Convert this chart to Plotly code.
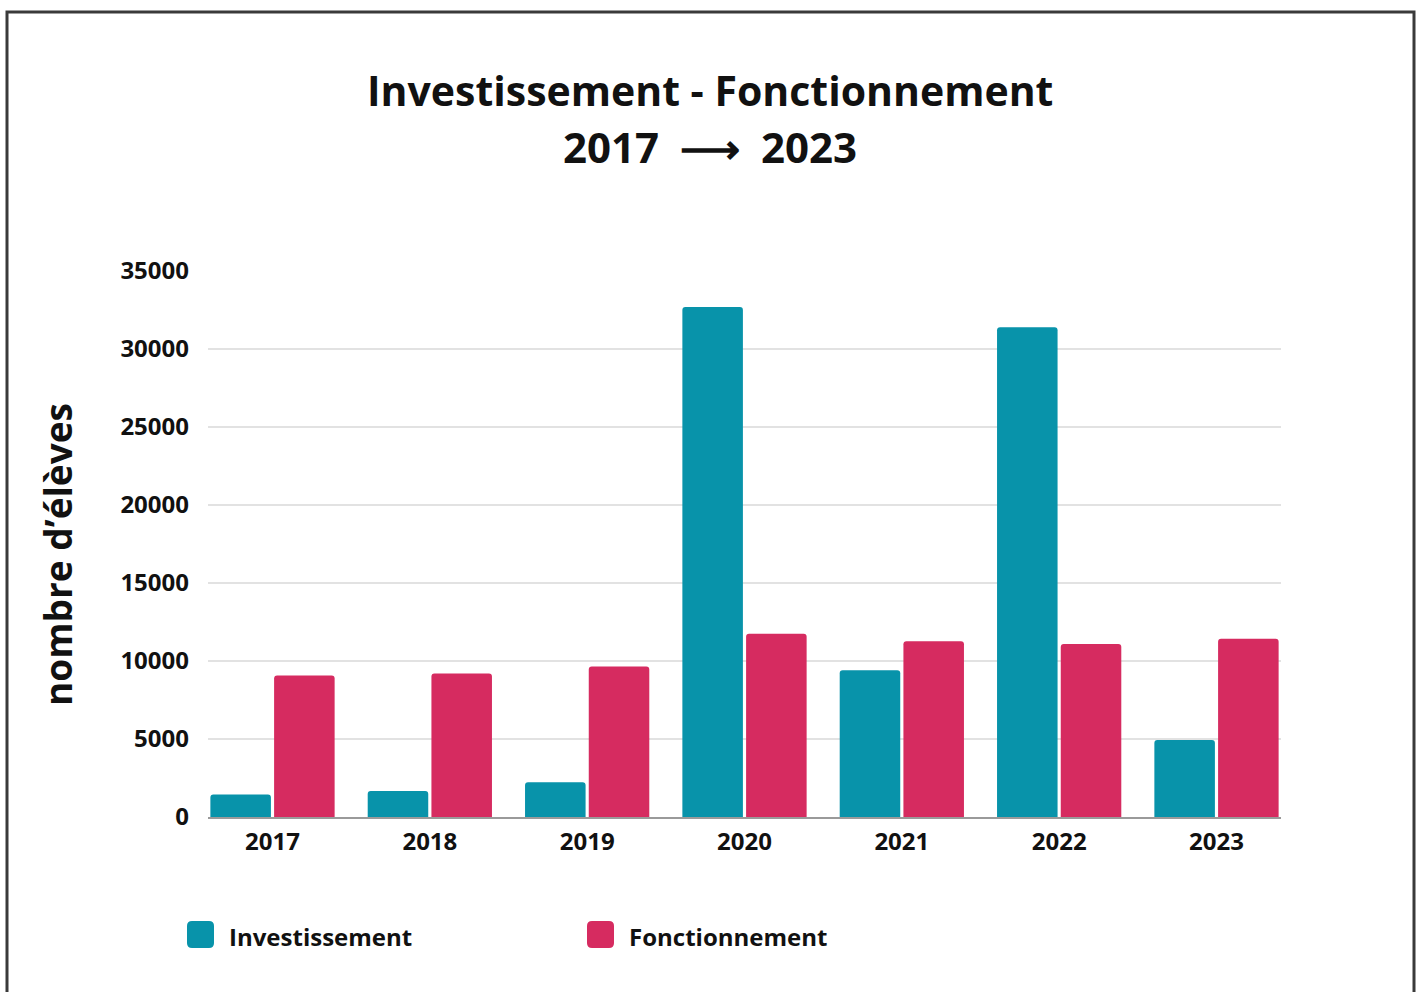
import plotly.graph_objects as go

# Data
years = ["2017", "2018", "2019", "2020", "2021", "2022", "2023"]
investissement = [1450, 1660, 2230, 32700, 9410, 31400, 4940]
fonctionnement = [9070, 9200, 9640, 11750, 11260, 11090, 11430]
y_ticks = [0, 5000, 10000, 15000, 20000, 25000, 30000, 35000]

series_names = ["Investissement", "Fonctionnement"]
series_colors = ["#0893aa", "#d62b60"]

# Page geometry
W, H = 1422, 992
ML, MR, MT, MB = 208, 141, 271, 175
PW, PH = W - ML - MR, H - MT - MB


def px_x(x):
    return (x - ML) / PW


def px_y(y):
    return (H - MB - y) / PH


def rounded_rect(x0, y0, x1, y1, r):
    """SVG path (paper coords) for a rounded rectangle given in pixels."""
    pts = [
        f"M {px_x(x0 + r)} {px_y(y0)}",
        f"L {px_x(x1 - r)} {px_y(y0)}",
        f"Q {px_x(x1)} {px_y(y0)} {px_x(x1)} {px_y(y0 + r)}",
        f"L {px_x(x1)} {px_y(y1 - r)}",
        f"Q {px_x(x1)} {px_y(y1)} {px_x(x1 - r)} {px_y(y1)}",
        f"L {px_x(x0 + r)} {px_y(y1)}",
        f"Q {px_x(x0)} {px_y(y1)} {px_x(x0)} {px_y(y1 - r)}",
        f"L {px_x(x0)} {px_y(y0 + r)}",
        f"Q {px_x(x0)} {px_y(y0)} {px_x(x0 + r)} {px_y(y0)}",
        "Z",
    ]
    return " ".join(pts)


FONT = "Open Sans"
INK = "#111111"

fig = go.Figure()
for name, vals, col in zip(series_names, [investissement, fonctionnement], series_colors):
    fig.add_trace(go.Bar(
        x=years, y=vals, name=name,
        marker=dict(color=col, line=dict(width=0), cornerradius=3),
        showlegend=False,
    ))

fig.update_layout(
    width=W, height=H,
    margin=dict(l=ML, r=MR, t=MT, b=MB, pad=0),
    paper_bgcolor="white", plot_bgcolor="white",
    barmode="group", bargap=0.19, bargroupgap=0.05,
    font=dict(family=FONT, color=INK),
    xaxis=dict(
        type="category", range=[-0.41, 6.41],
        showgrid=False, showline=True, linecolor="#9a9a9a", linewidth=2,
        ticks="", ticklabelstandoff=2,
        tickfont=dict(family=FONT, size=24, weight="bold", color=INK),
    ),
    yaxis=dict(
        range=[0, 35000], tickvals=y_ticks,
        ticktext=[str(v) for v in y_ticks],
        showgrid=True, gridcolor="#e2e2e2", gridwidth=2,
        zeroline=False, showline=False, ticks="", ticklabelstandoff=18,
        tickfont=dict(family=FONT, size=24, weight="bold", color=INK),
    ),
)

annotations = [
    dict(text="<b>Investissement - Fonctionnement</b>", x=px_x(710), y=px_y(90),
         font=dict(family=FONT, size=41, color=INK)),
    dict(text="<b>2017\u2002⟶\u20022023</b>", x=px_x(710), y=px_y(147),
         font=dict(family=FONT, size=42, color=INK)),
    dict(text="<b>nombre d’élèves</b>", x=px_x(57), y=px_y(555), textangle=-90,
         font=dict(family=FONT, size=37, color=INK)),
]

# Legend swatches and labels
legend_left = [187, 587]
shapes = []
for lx, name, col in zip(legend_left, series_names, series_colors):
    shapes.append(dict(type="path", xref="paper", yref="paper",
                       path=rounded_rect(lx, 921, lx + 27, 948, 5),
                       fillcolor=col, line=dict(width=0), layer="above"))
    annotations.append(dict(text=f"<b>{name}</b>", x=px_x(lx + 40), y=px_y(936),
                            xanchor="left",
                            font=dict(family=FONT, size=24, color=INK)))

# Outer frame
shapes.append(dict(type="rect", xref="paper", yref="paper",
                   x0=px_x(7), x1=px_x(1414), y0=px_y(1010), y1=px_y(12),
                   line=dict(color="#3a3a3a", width=3), fillcolor="rgba(0,0,0,0)"))

for a in annotations:
    a.setdefault("xanchor", "center")
    a.update(xref="paper", yref="paper", yanchor="middle", showarrow=False)

fig.update_layout(annotations=annotations, shapes=shapes)

fig.write_html("out.html")
